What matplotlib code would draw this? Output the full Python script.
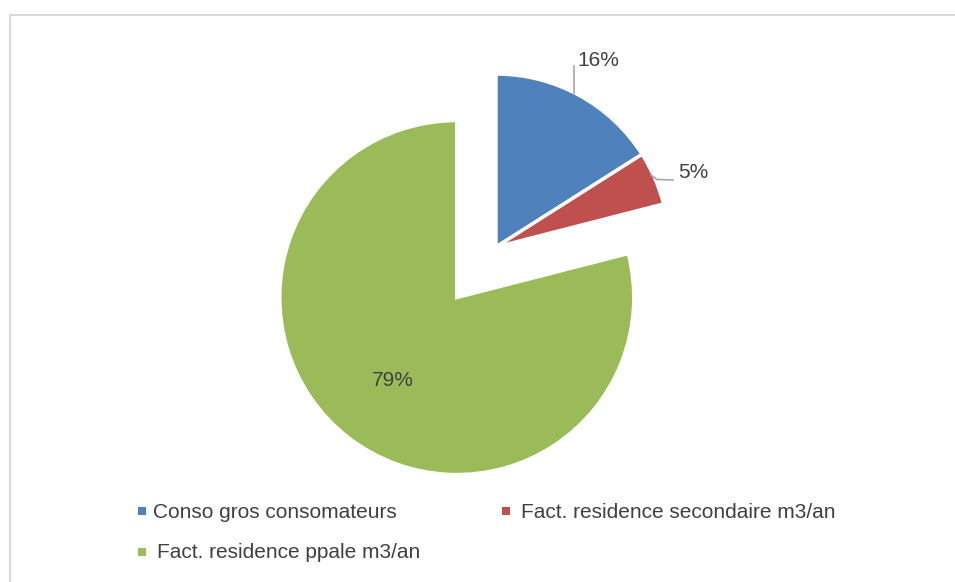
import matplotlib.pyplot as plt
from matplotlib.patches import Rectangle

names = ['Conso gros consomateurs', 'Fact. residence secondaire m3/an',
         'Fact. residence ppale m3/an']
values = [16, 5, 79]
colors = ['#4F81BD', '#C0504D', '#9BBB59']

plt.rcParams['font.family'] = ['Liberation Sans', 'DejaVu Sans']
W, H = 955, 582
fig = plt.figure(figsize=(W / 100, H / 100), dpi=100)
ax = fig.add_axes([0, 0, 1, 1])

# chart border
ax.add_patch(Rectangle((9.5, -5), W, H - 14.5 + 5, fill=False,
                       edgecolor='#D9D9D9', linewidth=1.5))

# explode is in data units here (pixels)
wedges, _ = ax.pie(values, colors=colors, startangle=90, counterclock=False,
                   center=(496, H - 247), radius=173, explode=[0, 0, 64],
                   wedgeprops=dict(edgecolor='white', linewidth=2.5))
wedges[2].set_radius(177)
ax.set_xlim(0, W)
ax.set_ylim(0, H)
ax.set_aspect('equal')
ax.axis('off')

tc = '#404040'
pct = [f'{v / sum(values) * 100:.0f}%' for v in values]
# 16% label with leader
ax.plot([573.5, 573.5], [H - 93, H - 66], color='#A6A6A6', lw=1.2)
ax.text(577, H - 60, pct[0], fontsize=15, color=tc, va='center', ha='left')
# 5% label with leader
ax.plot([651, 657, 673], [H - 175, H - 179.5, H - 180], color='#A6A6A6', lw=1.2)
ax.text(678, H - 173, pct[1], fontsize=15, color=tc, va='center', ha='left')
# 79% inside
ax.text(393, H - 381, pct[2], fontsize=15, color=tc, va='center', ha='center')

# legend
leg = [(142, 511), (506, 511), (142, 552)]
offs = [11, 15, 15]
for (x, y), c, n, o in zip(leg, colors, names, offs):
    ax.add_patch(Rectangle((x - 4, H - y - 4), 8, 8, color=c, lw=0))
    ax.text(x + o, H - y - 1, n, fontsize=15, color=tc, va='center', ha='left')

fig.savefig('out.png', dpi=100)
